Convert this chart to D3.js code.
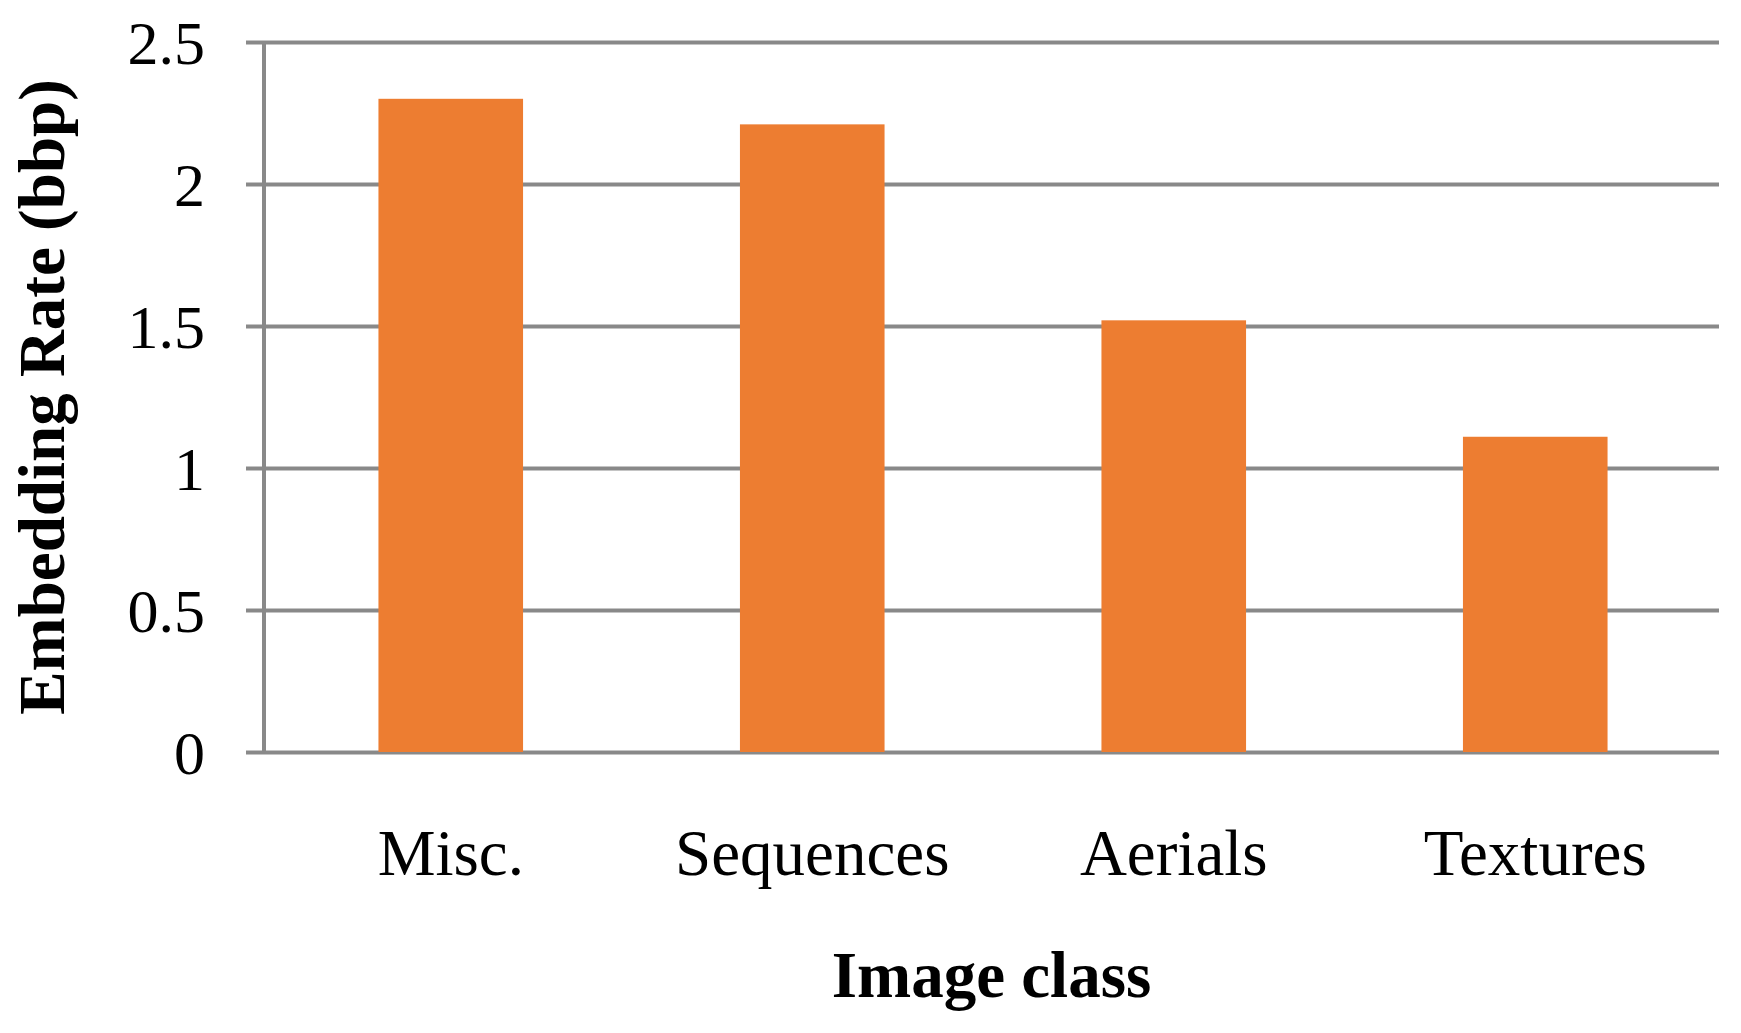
<!DOCTYPE html>
<html>
<head>
<meta charset="utf-8">
<script src="https://cdn.jsdelivr.net/npm/d3@7"></script>
<style>
    body { margin: 0; background: #ffffff; }
    text { font-family: "Liberation Serif", "Times New Roman", serif; fill: #000000; }
</style>
</head>
<body>
<div id="chart"></div>
<script>
var categories = ["Misc.", "Sequences", "Aerials", "Textures"];
var embeddingRate = [2.30, 2.21, 1.52, 1.11];
var yTicks = [0, 0.5, 1, 1.5, 2, 2.5];

var svgWidth = 1741;
var svgHeight = 1033;

var plot =
{
    top: 42,
    bottom: 752,
    axisX: 264,
    gridLeft: 246,
    right: 1719
};

var svg = d3
    .select("#chart")
    .append("svg")
    .attr("width", svgWidth)
    .attr("height", svgHeight);

var yLinearScale = d3.scaleLinear()
    .domain([0, 2.5])
    .range([plot.bottom, plot.top]);

var xBandScale = d3.scaleBand()
    .domain(categories)
    .range([270, 1716])
    .paddingInner(0.6)
    .paddingOuter(0.3);

// gridlines + tick labels
var leftAxis = d3.axisLeft(yLinearScale)
    .tickValues(yTicks)
    .tickFormat(d => d)
    .tickSizeInner(-(plot.right - plot.gridLeft))
    .tickSizeOuter(0)
    .tickPadding(41);

var yAxis = svg.append("g")
    .attr("transform", `translate(${plot.gridLeft}, 0)`)
    .call(leftAxis);

yAxis.select(".domain").remove();
yAxis.selectAll(".tick line")
    .attr("stroke", "#898989")
    .attr("stroke-width", 4);
yAxis.selectAll(".tick text")
    .attr("font-size", 62)
    .attr("dy", "0.34em")
    .style("font-family", "'Liberation Serif', serif");

// bars
svg.append("g")
    .selectAll("rect")
    .data(embeddingRate)
    .enter()
    .append("rect")
    .attr("x", (d, i) => xBandScale(categories[i]))
    .attr("width", xBandScale.bandwidth())
    .attr("y", d => yLinearScale(d))
    .attr("height", d => yLinearScale(0) - yLinearScale(d))
    .attr("fill", "#ED7D31");

// vertical axis line
svg.append("line")
    .attr("x1", plot.axisX)
    .attr("x2", plot.axisX)
    .attr("y1", yLinearScale(2.5))
    .attr("y2", yLinearScale(0))
    .attr("stroke", "#898989")
    .attr("stroke-width", 4);

// category labels
var bottomAxis = d3.axisBottom(xBandScale)
    .tickSize(0)
    .tickPadding(0);

var xAxis = svg.append("g")
    .attr("transform", `translate(0, ${plot.bottom})`)
    .call(bottomAxis);

xAxis.select(".domain").remove();
xAxis.selectAll(".tick text")
    .attr("y", 123)
    .attr("dy", 0)
    .attr("font-size", 65)
    .style("font-family", "'Liberation Serif', serif");

// axis titles
svg.append("text")
    .attr("x", (plot.axisX + plot.right) / 2)
    .attr("y", 997)
    .attr("text-anchor", "middle")
    .attr("font-size", 65)
    .attr("font-weight", "bold")
    .text("Image class");

svg.append("text")
    .attr("transform", `translate(64, ${(plot.top + plot.bottom) / 2}) rotate(-90)`)
    .attr("text-anchor", "middle")
    .attr("font-size", 65)
    .attr("font-weight", "bold")
    .text("Embedding Rate (bbp)");
</script>
</body>
</html>
